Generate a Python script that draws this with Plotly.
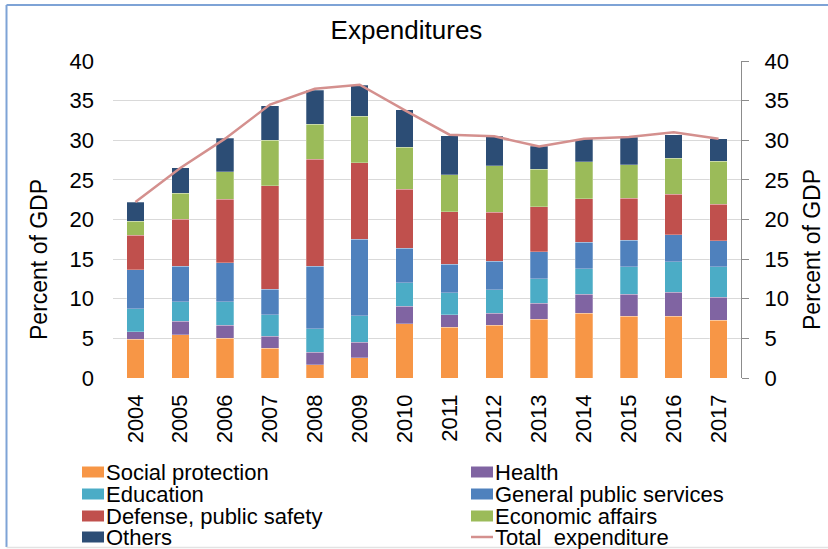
import plotly.graph_objects as go

# Government expenditures by function, percent of GDP
years = ["2004", "2005", "2006", "2007", "2008", "2009", "2010",
         "2011", "2012", "2013", "2014", "2015", "2016", "2017"]

social_protection = [4.88, 5.43, 5.00, 3.74, 1.68, 2.57, 6.86, 6.39, 6.65, 7.44, 8.20, 7.78, 7.78, 7.28]
health = [0.97, 1.72, 1.64, 1.52, 1.60, 1.93, 2.18, 1.60, 1.55, 1.98, 2.36, 2.82, 3.07, 2.94]
education = [2.90, 2.48, 2.98, 2.73, 2.94, 3.37, 2.95, 2.74, 2.95, 3.11, 3.24, 3.45, 3.83, 3.83]
general_public_services = [4.88, 4.50, 4.92, 3.24, 7.91, 9.63, 4.37, 3.65, 3.57, 3.37, 3.36, 3.36, 3.41, 3.24]
defense_public_safety = [4.37, 5.89, 7.99, 13.04, 13.46, 9.67, 7.45, 6.57, 6.18, 5.72, 5.47, 5.26, 5.09, 4.62]
economic_affairs = [1.81, 3.32, 3.50, 5.72, 4.42, 5.85, 5.30, 4.71, 5.89, 4.75, 4.63, 4.21, 4.54, 5.43]
others = [2.36, 3.20, 4.20, 4.37, 4.33, 3.95, 4.71, 4.92, 3.70, 2.86, 2.90, 3.49, 2.98, 2.82]
total_expenditure = [22.2, 26.5, 30.2, 34.5, 36.5, 37.0, 33.8, 30.7, 30.5, 29.2, 30.2, 30.4, 31.0, 30.2]

y_ticks = [0, 5, 10, 15, 20, 25, 30, 35, 40]

series = [
    ("Social protection", social_protection, "#F79646"),
    ("Health", health, "#8064A2"),
    ("Education", education, "#4BACC6"),
    ("General public services", general_public_services, "#4F81BD"),
    ("Defense, public safety", defense_public_safety, "#C0504D"),
    ("Economic affairs", economic_affairs, "#9BBB59"),
    ("Others", others, "#2C4D75"),
]
total_name = "Total  expenditure"
total_color = "#D4908E"

FONT = "Arial, Liberation Sans, sans-serif"
W, H = 828, 549
ML, MR, MT, MB = 113, 87, 61, 171
PW, PH = W - ML - MR, H - MT - MB


def fx(px):
    return (px - ML) / PW


def fy(py):
    return (H - MB - py) / PH


fig = go.Figure()
for name, vals, color in series:
    fig.add_trace(go.Bar(
        x=years, y=vals, name=name,
        marker=dict(color=color, line=dict(color="rgba(255,255,255,0.45)", width=0.6)),
        showlegend=False,
    ))

fig.add_trace(go.Scatter(
    x=years, y=total_expenditure, name=total_name, mode="lines",
    line=dict(color=total_color, width=2.5), yaxis="y2", showlegend=False,
))

fig.update_layout(
    width=W, height=H,
    margin=dict(l=ML, r=MR, t=MT, b=MB),
    paper_bgcolor="white", plot_bgcolor="white",
    barmode="stack", bargap=0.61,
    font=dict(family=FONT, size=22, color="black"),
    title=dict(text="Expenditures", x=406.5 / W, xref="container", xanchor="center",
               y=1 - 29.5 / H, yref="container", yanchor="middle",
               font=dict(family=FONT, size=26, color="black")),
    xaxis=dict(type="category", showgrid=False, showline=False, ticks="",
               tickangle=-90, ticklabelstandoff=11,
               tickfont=dict(family=FONT, size=22)),
    yaxis=dict(range=[0, 40], tickvals=y_ticks, showgrid=True, gridcolor="#D9D9D9",
               gridwidth=1.2, zeroline=False, showline=False, ticks="",
               ticklabelstandoff=18, tickfont=dict(family=FONT, size=22)),
    yaxis2=dict(range=[0, 40], tickvals=y_ticks, overlaying="y", side="right",
                showgrid=False, zeroline=False, showline=True, linecolor="#8C8C8C",
                linewidth=1, ticks="outside", ticklen=7, tickcolor="#8C8C8C",
                ticklabelstandoff=11, tickfont=dict(family=FONT, size=22)),
)

annotations = [
    dict(text="Percent of GDP", x=fx(39), y=fy(260), textangle=-90,
         xanchor="center", yanchor="middle", font=dict(family=FONT, size=23)),
    dict(text="Percent of GDP", x=fx(812), y=fy(250), textangle=-90,
         xanchor="center", yanchor="middle", font=dict(family=FONT, size=23)),
]
shapes = []

# Legend in two columns, filled row by row
legend_items = [(name, color, "bar") for name, _, color in series] + [(total_name, total_color, "line")]
col_x = [82, 471]
row_y = [472, 494, 516, 537]
for i, (name, color, kind) in enumerate(legend_items):
    cx = col_x[i % 2]
    cy = row_y[i // 2]
    if kind == "bar":
        shapes.append(dict(type="rect", xref="paper", yref="paper",
                           x0=fx(cx), x1=fx(cx + 22), y0=fy(cy + 5.5), y1=fy(cy - 5.5),
                           fillcolor=color, line=dict(width=0)))
    else:
        shapes.append(dict(type="line", xref="paper", yref="paper",
                           x0=fx(cx), x1=fx(cx + 22), y0=fy(cy), y1=fy(cy),
                           line=dict(color=color, width=2.5)))
    annotations.append(dict(text=name, x=fx(cx + 23), y=fy(cy), xanchor="left",
                            yanchor="middle", borderpad=0,
                            font=dict(family=FONT, size=22)))

for a in annotations:
    a.setdefault("xref", "paper")
    a.setdefault("yref", "paper")
    a.setdefault("showarrow", False)

# Chart frame
shapes += [
    dict(type="line", xref="paper", yref="paper", x0=fx(6.5), x1=fx(6.5), y0=fy(5), y1=fy(547),
         line=dict(color="#7EA3D6", width=2)),
    dict(type="line", xref="paper", yref="paper", x0=fx(6.5), x1=fx(840), y0=fy(5), y1=fy(5),
         line=dict(color="#7EA3D6", width=2)),
    dict(type="line", xref="paper", yref="paper", x0=fx(6.5), x1=fx(840), y0=fy(547.5), y1=fy(547.5),
         line=dict(color="#E3E3E3", width=1.5)),
]

fig.update_layout(annotations=annotations, shapes=shapes)
fig.write_html("out.html")
